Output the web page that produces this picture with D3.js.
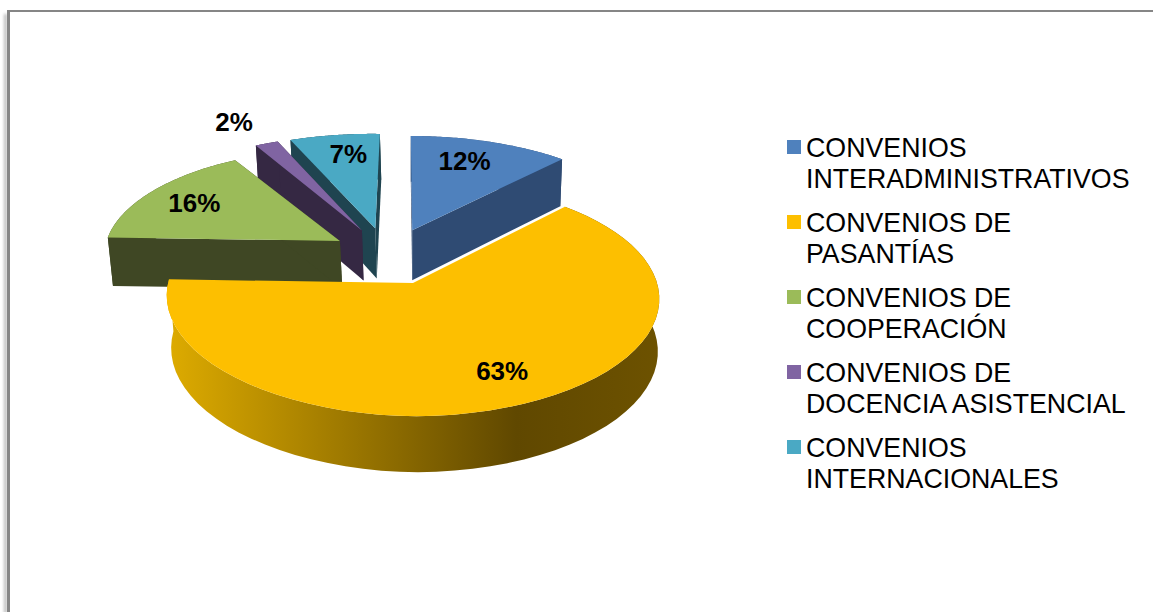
<!DOCTYPE html>
<html><head><meta charset="utf-8">
<script src="https://d3js.org/d3.v7.min.js"></script>
<style>html,body{margin:0;padding:0;background:#fff;overflow:hidden}svg{display:block}</style>
</head><body><svg id="c" width="1153" height="612"></svg>
<script>
// Data
const categories = ["CONVENIOS INTERADMINISTRATIVOS","CONVENIOS DE PASANTÍAS","CONVENIOS DE COOPERACIÓN","CONVENIOS DE DOCENCIA ASISTENCIAL","CONVENIOS INTERNACIONALES"];
const legendLines = [["CONVENIOS","INTERADMINISTRATIVOS"],["CONVENIOS DE","PASANTÍAS"],["CONVENIOS DE","COOPERACIÓN"],["CONVENIOS DE","DOCENCIA ASISTENCIAL"],["CONVENIOS","INTERNACIONALES"]];
const values = [12,63,16,2,7];
// Styles and layout
const topColors = ["#4f81bd","#fdbf00","#9bbb59","#8064a2","#4aa9c4"];
const wallColors = ["#2f4b73","#6b5000","#3f4724","#352843","#1f4450"];
const explodeX = [0,0,-0.315,-0.223,-0.165];
const explodeV = [0.49,0,0.375,0.48,0.5];
const radii = [1.06,1,1,1.07,1.07];
const skewXs = [0.015,0,0,0,0];
const depths = [52,52,50,52,52];
const lowerShift = [0,1.5,1.5,1,1];
const startTrim = [0,0,0,1.8,1.0];   // degrees, perspective correction of slice edges
const endTrim = [0,0,0,0.8,0];
const labelFrac = [0.70,0.62,0.62,1.30,0.66];
const labelNudge = [[-4,-5],[24,17],[-27,-6],[-8,1],[1,-10]];
const drawOrder = [4,3,2,0,1];
const cx=413, cy=283, Rx=244, Ry=115, k=0.137, skewY=0.015;

const svg = d3.select("#c");
const defs = svg.append("defs");
const blur = defs.append("filter").attr("id","sh").attr("x","-300%").attr("width","700%");
blur.append("feGaussianBlur").attr("stdDeviation",1.6);
const grad = defs.append("linearGradient").attr("id","wall").attr("gradientUnits","userSpaceOnUse")
  .attr("x1",172).attr("x2",660).attr("y1",0).attr("y2",0);
[[0,"#dcaa00"],[0.705,"#604800"],[1,"#6d5200"]].forEach(s=>grad.append("stop").attr("offset",s[0]).attr("stop-color",s[1]));

// Frame
svg.append("rect").attr("x",4).attr("y",14).attr("width",3).attr("height",600).attr("fill","#bbb").attr("filter","url(#sh)");
svg.append("rect").attr("x",7).attr("y",10).attr("width",1146).attr("height",2).attr("fill","#868686");
svg.append("rect").attr("x",7).attr("y",10).attr("width",3).attr("height",602).attr("fill","#868686");

const pie = d3.pie().sort(null).value(d=>d).startAngle(0).endAngle(2*Math.PI);
const arcs = pie(values).map((d,i)=>({...d,
  startAngle:d.startAngle+startTrim[i]*Math.PI/180,
  endAngle:d.endAngle+endTrim[i]*Math.PI/180}));

function planeOf(a,r,i){ return {x:explodeX[i]+r*Math.sin(a), v:explodeV[i]+r*Math.cos(a)}; }
function project(a,r,i){
  const p=planeOf(a,r,i), w=1+k*p.v, X=Rx*p.x/w, Y=-Ry*p.v/w;
  return [cx+X+skewXs[i]*Y, cy+Y+skewY*Math.min(X,0)];
}
function lower(a,r,i){
  const p=project(a,r,i), v=planeOf(a,r,i).v;
  return [cx+lowerShift[i]+(p[0]-cx)*0.988, p[1]+depths[i]-4*v];
}
const line=d3.line();
const sweep=(d)=>d3.range(0,61).map(t=>d.startAngle+(d.endAngle-d.startAngle)*t/60);

drawOrder.forEach(i=>{
  const d=arcs[i], r=radii[i], g=svg.append("g").attr("class","slice");
  const ang=sweep(d);
  const rim=ang.map(a=>project(a,r,i));
  const rimLow=ang.map(a=>lower(a,r,i));
  const wallFill = i===1 ? "url(#wall)" : wallColors[i];
  g.append("path").attr("d",line(rim.concat(rimLow.slice().reverse()))+"Z").attr("fill",wallFill);
  if(i!==1){
    [d.startAngle,d.endAngle].forEach(a=>{
      g.append("path").attr("fill",wallFill).attr("d",line([project(a,0,i),project(a,r,i),lower(a,r,i),lower(a,0,i)])+"Z");
    });
  }
  g.append("path").attr("fill",topColors[i]).attr("d",line([project(0,0,i)].concat(rim))+"Z");
});

// Labels
arcs.forEach((d,i)=>{
  const mid=(d.startAngle+d.endAngle)/2, p=project(mid,radii[i]*labelFrac[i],i);
  svg.append("text").attr("x",p[0]+labelNudge[i][0]).attr("y",p[1]+labelNudge[i][1]).attr("dy","0.35em")
    .attr("text-anchor","middle").attr("font-family","'Liberation Sans',Arial,sans-serif")
    .attr("font-weight","bold").attr("font-size",26).attr("fill","#000")
    .text(d3.format(".0f")(values[i])+"%");
});

// Legend
const legendY=d3.scalePoint().domain(categories).range([0,300]);
categories.forEach((c,i)=>{
  const y=legendY(c);
  const g=svg.append("g").attr("transform",`translate(0,${y})`);
  g.append("rect").attr("x",787).attr("y",140).attr("width",14).attr("height",14).attr("fill",topColors[i]);
  legendLines[i].forEach((t,j)=>{
    g.append("text").attr("x",806).attr("y",157+j*30.7).attr("font-family","'Liberation Sans',Arial,sans-serif")
      .attr("font-size",26.75).attr("fill","#000").text(t);
  });
});
</script></body></html>
